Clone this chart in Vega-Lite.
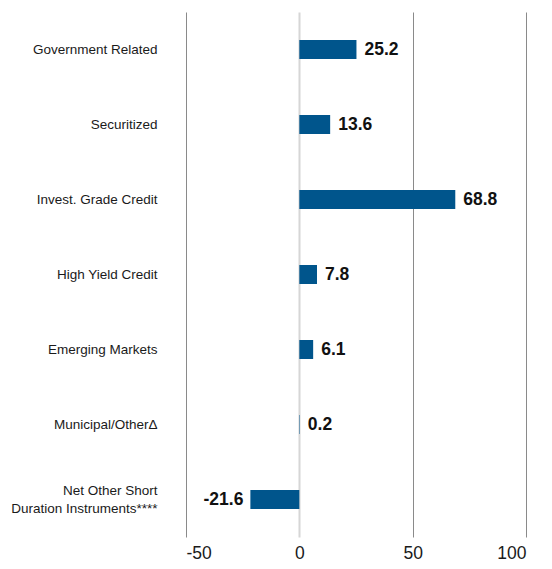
{
  "$schema": "https://vega.github.io/schema/vega-lite/v6.json",
  "autosize": {"type": "none"},
  "padding": {"left": 186, "top": 12, "right": 26, "bottom": 32},
  "width": 340,
  "height": 525,
  "background": "white",
  "config": {"view": {"stroke": null}, "font": "Liberation Sans"},
  "data": {"values": [
    {"cat": "Government Related", "value": 25.2},
    {"cat": "Securitized", "value": 13.6},
    {"cat": "Invest. Grade Credit", "value": 68.8},
    {"cat": "High Yield Credit", "value": 7.8},
    {"cat": "Emerging Markets", "value": 6.1},
    {"cat": "Municipal/OtherΔ", "value": 0.2},
    {"cat": "Net Other Short|Duration Instruments****", "value": -21.6}
  ]},
  "encoding": {
    "y": {
      "field": "cat", "type": "nominal", "sort": null,
      "scale": {"paddingInner": 0.74, "paddingOuter": 0.37},
      "axis": {
        "title": null, "domain": false, "ticks": false,
        "labelPadding": 29, "labelFontSize": 13.5, "labelColor": "#1a1a1a",
        "labelExpr": "split(datum.value, '|')", "labelLineHeight": 18,
        "labelOffset": {"condition": {"test": "indexof(datum.value, '|') >= 0", "value": -9}, "value": 0},
        "labelLimit": 200
      }
    },
    "x": {
      "field": "value", "type": "quantitative",
      "scale": {"domain": [-50, 100], "nice": false, "zero": false},
      "axis": {
        "title": null, "domain": false, "ticks": false,
        "values": [-50, 0, 50, 100],
        "labelExpr": "replace(datum.label, '−', '-')",
        "labelFontSize": 17.5, "labelColor": "#1a1a1a", "labelPadding": 7,
        "gridColor": {"condition": {"test": "datum.value === 0", "value": "#d6d6d6"}, "value": "#8a8a8a"},
        "gridWidth": {"condition": {"test": "datum.value === 0", "value": 2}, "value": 1},
        "gridOpacity": 1
      }
    }
  },
  "layer": [
    {"mark": {"type": "bar", "color": "#00558c", "size": 19}},
    {
      "transform": [{"filter": "datum.value >= 0"}],
      "mark": {"type": "text", "align": "left", "dx": 8, "fontSize": 17.5, "fontWeight": "bold", "color": "#111",
        "text": {"expr": "replace(format(datum.value, '.1f'), '−', '-')"}}
    },
    {
      "transform": [{"filter": "datum.value < 0"}],
      "mark": {"type": "text", "align": "right", "dx": -7, "fontSize": 17.5, "fontWeight": "bold", "color": "#111",
        "text": {"expr": "replace(format(datum.value, '.1f'), '−', '-')"}}
    }
  ]
}
